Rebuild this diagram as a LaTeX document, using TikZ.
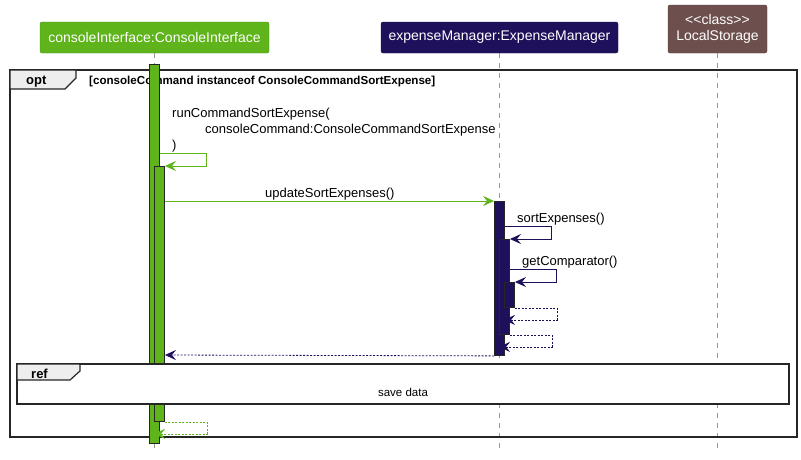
\documentclass[tikz,border=0pt]{standalone}
\usepackage{fontspec}
\setmainfont{Liberation Sans}[Ligatures=TeXOff]
\usetikzlibrary{arrows.meta,calc}
\definecolor{cigreen}{RGB}{94,180,26}
\definecolor{emnavy}{RGB}{31,16,92}
\definecolor{lsbrown}{RGB}{109,79,77}
\definecolor{tabgray}{RGB}{238,238,238}
\definecolor{lifegray}{RGB}{150,150,150}
\tikzset{
  part/.style={rounded corners=2pt, draw=#1!80!black, fill=#1, text=white, inner sep=0pt,
    font=\fontsize{14}{16}\selectfont, align=center},
  life/.style={draw=lifegray, line width=0.8pt, dash pattern=on 5pt off 5pt},
  actbar/.style={draw=black!85, line width=0.9pt, fill=#1, minimum width=10pt, inner sep=0pt, anchor=north},
  tip/.style={-{Stealth[length=11pt,width=10pt,inset=4pt]}},
  msg/.style={tip, draw=#1, line width=1pt},
  ret/.style={tip, draw=#1, line width=0.8pt, dash pattern=on 2pt off 1.5pt},
  lbl/.style={inner sep=0pt, anchor=base west, font=\fontsize{13}{15}\selectfont},
  frameline/.style={draw=black!85, line width=1.5pt},
  tabshape/.style={draw=black!85, line width=1.2pt, fill=tabgray},
  frametitle/.style={inner sep=0pt, anchor=base west, font=\fontsize{13}{15}\selectfont\bfseries},
}
\begin{document}
\begin{tikzpicture}[x=1pt,y=-1pt]
\useasboundingbox[fill=white] (0,0) rectangle (801,459);

% participants
\node[part=cigreen, minimum width=229pt, minimum height=31pt] (ci) at (154.5,37.5) {consoleInterface:ConsoleInterface};
\node[part=emnavy, minimum width=237pt, minimum height=31pt] (em) at (499.5,37.5) {expenseManager:ExpenseManager};
\node[part=lsbrown, minimum width=99pt, minimum height=48pt] (ls) at (717.5,29) {<<class>>\\LocalStorage};

% lifeline ends
\coordinate (ciE) at (154.5,452);
\coordinate (emE) at (499.5,452);
\coordinate (lsE) at (717.5,452);
\draw[life] (ci.south) -- (ciE);
\draw[life] (em.south) -- (emE);
\draw[life] (ls.south) -- (lsE);

% opt frame
\draw[frameline] (10,70) rectangle (797,437);
\draw[tabshape] (10,70) -- (76,70) -- (76,78) -- (65,89) -- (10,89) -- cycle;
\node[frametitle] (optT) at (26,84) {opt};
\node[frametitle, font=\fontsize{11.6}{13}\selectfont\bfseries] (optC) at (89,84) {[consoleCommand instanceof ConsoleCommandSortExpense]};

% activation bars
\node[actbar=cigreen, minimum height=379pt] (a1) at (154.5,64) {};
\node[actbar=cigreen, minimum height=255pt] (a2) at (159.5,166) {};
\node[actbar=emnavy, minimum height=154pt] (b1) at (499.5,201) {};
\node[actbar=emnavy, minimum height=95pt] (b2) at (504.5,239) {};
\node[actbar=emnavy, minimum height=25pt] (b3) at (509.5,282) {};

% self call runCommandSortExpense
\node[lbl] (m1a) at (172,117) {runCommandSortExpense(};
\node[lbl] (m1b) at (205,133) {consoleCommand:ConsoleCommandSortExpense};
\node[lbl] (m1c) at (172,149) {)};
\draw[msg=cigreen] ($(a1.north east)+(0,89)$) -- ++(47,0) -- ++(0,13) -- (a2.north east);

% updateSortExpenses
\node[lbl] (m2) at (265,197) {updateSortExpenses()};
\draw[msg=cigreen] ($(a2.north east)+(0,35)$) -- (b1.north west);

% sortExpenses
\node[lbl] (m3) at (517,222) {sortExpenses()};
\draw[msg=emnavy] ($(b1.north east)+(0,25)$) -- ++(47,0) -- ++(0,13) -- (b2.north east);

% getComparator
\node[lbl] (m4) at (522,265) {getComparator()};
\draw[msg=emnavy] ($(b2.north east)+(0,30)$) -- ++(47,0) -- ++(0,13) -- (b3.north east);

% returns
\draw[ret=emnavy] (b3.south east) -- ++(42,0) -- ++(0,12) -- ($(b3.south west)+(0,12)$);
\draw[ret=emnavy] (b2.south east) -- ++(42,0) -- ++(0,12) -- ($(b2.south west)+(0,12)$);
\draw[ret=emnavy] (b1.south west) -- ($(a2.north east)+(0,189)$);

% ref frame
\draw[frameline, fill=white] (17,364) rectangle (789,404);
\draw[tabshape] (17,364) -- (80,364) -- (80,371) -- (70,380) -- (17,380) -- cycle;
\node[frametitle] (refT) at (31,378) {ref};
\node[lbl, anchor=base, font=\fontsize{11.5}{13}\selectfont] (refC) at (403,396) {save data};

% final return
\draw[ret=cigreen] (a2.south east) -- ++(42,0) -- ++(0,12) -- ($(a2.south west)+(0,12)$);
\end{tikzpicture}
\end{document}
